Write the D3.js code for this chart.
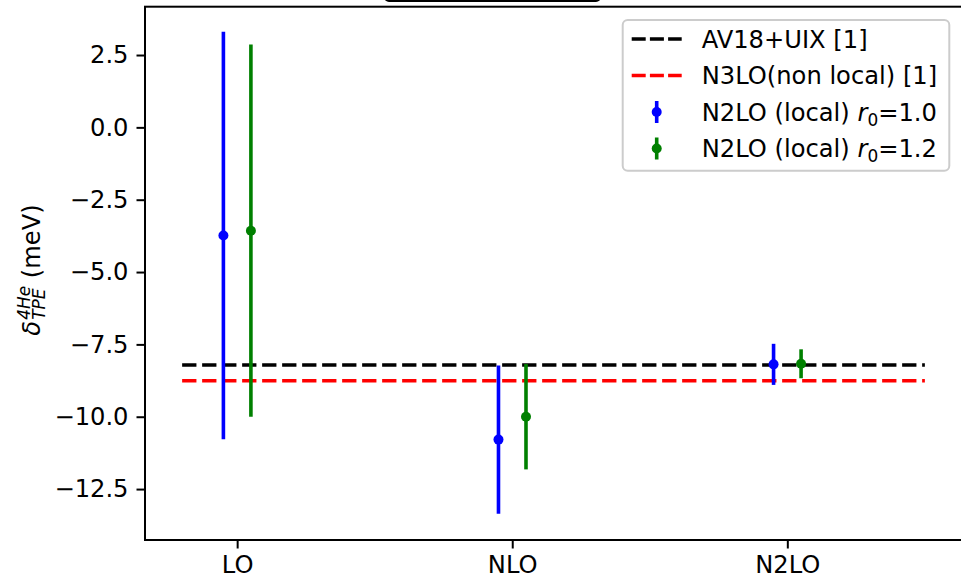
<!DOCTYPE html>
<html>
<head>
<meta charset="utf-8">
<script src="https://cdn.jsdelivr.net/npm/d3@7"></script>
<style>
  html, body { margin: 0; padding: 0; background: #fff; }
  svg { display: block; font-family: "DejaVu Sans", sans-serif; }
</style>
</head>
<body>
<svg id="chart" width="961" height="585"></svg>
<script>
// ---- data ----
const categories = ["LO", "NLO", "N2LO"];
const r0_10_values = [-3.74, -10.79, -8.19];
const r0_10_errors = [7.04, 2.56, 0.71];
const r0_12_values = [-3.57, -10.0, -8.17];
const r0_12_errors = [6.43, 1.82, 0.50];
const refNames = ["AV18+UIX [1]", "N3LO(non local) [1]"];
const refValues = [-8.21, -8.755];
const refColors = ["#000000", "#ff0000"];
const seriesLabels = ["1.0", "1.2"];
const seriesColors = ["#0000ff", "#008000"];
const seriesOffsets = [-0.05, 0.05];
const yTicks = [2.5, 0.0, -2.5, -5.0, -7.5, -10.0, -12.5];
const refSpan = [-0.2, 2.5];

// ---- layout ----
const svg = d3.select("#chart");
const mLeft = 145, mRight = 962, mTop = 6.7, mBottom = 540;
const FS = 24.2;

const x = d3.scaleLinear().domain([-0.335, 2.635]).range([mLeft, mRight]);
const y = d3.scaleLinear().domain([-14.26, 4.17]).range([mBottom, mTop]);

// title box remnant at very top
svg.append("rect").attr("x", 385).attr("y", -30).attr("width", 215).attr("height", 31)
  .attr("rx", 4).attr("fill", "none").attr("stroke", "#000").attr("stroke-width", 2);

// reference dashed lines
refValues.forEach((v, i) => {
  svg.append("line")
    .attr("x1", x(refSpan[0])).attr("x2", x(refSpan[1]))
    .attr("y1", y(v)).attr("y2", y(v))
    .attr("stroke", refColors[i]).attr("stroke-width", 3.6)
    .attr("stroke-dasharray", "14.3,5.7");
});

// error bars
const series = [
  { vals: r0_10_values, errs: r0_10_errors },
  { vals: r0_12_values, errs: r0_12_errors }
];
series.forEach((s, si) => {
  const g = svg.append("g");
  categories.forEach((c, i) => {
    const cx = x(i + seriesOffsets[si]);
    g.append("line").attr("x1", cx).attr("x2", cx)
      .attr("y1", y(s.vals[i] + s.errs[i])).attr("y2", y(s.vals[i] - s.errs[i]))
      .attr("stroke", seriesColors[si]).attr("stroke-width", 3.6);
    g.append("circle").attr("cx", cx).attr("cy", y(s.vals[i])).attr("r", 5)
      .attr("fill", seriesColors[si]);
  });
});

// axes
const yAxis = d3.axisLeft(y).tickValues(yTicks).tickFormat(d3.format(".1f"))
  .tickSize(8.5).tickPadding(8);
const gy = svg.append("g").attr("transform", `translate(${mLeft},0)`).call(yAxis);
const xAxis = d3.axisBottom(x).tickValues([0, 1, 2]).tickFormat(i => categories[i])
  .tickSize(8.5).tickPadding(7);
const gx = svg.append("g").attr("transform", `translate(0,${mBottom})`).call(xAxis);
[gx, gy].forEach(g => {
  g.select(".domain").remove();
  g.selectAll(".tick line").attr("stroke", "#000").attr("stroke-width", 2);
  g.selectAll(".tick text").attr("fill", "#000").style("font-size", FS + "px")
    .style("font-family", "DejaVu Sans");
});

// spines
svg.append("rect").attr("x", mLeft).attr("y", mTop).attr("width", mRight - mLeft).attr("height", mBottom - mTop)
  .attr("fill", "none").attr("stroke", "#000").attr("stroke-width", 2);

// y label (rotated math text)
const yl = svg.append("g");
let cur = 0;
function addPiece(txt, size, italic, dy) {
  return yl.append("text").attr("x", cur).attr("y", dy).text(txt)
    .style("font-size", size + "px").style("font-style", italic ? "italic" : "normal")
    .attr("fill", "#000");
}
const d1 = addPiece("δ", FS, true, 0);
cur += d1.node().getComputedTextLength() + 1;
const sup = addPiece("4He", FS * 0.7, true, -10);
const sub = addPiece("TPE", FS * 0.7, true, 5);
cur += Math.max(sup.node().getComputedTextLength(), sub.node().getComputedTextLength());
const rest = yl.append("text").attr("x", cur).attr("y", 0).text("\u00a0(meV)")
  .style("font-size", FS + "px").attr("fill", "#000");
cur += rest.node().getComputedTextLength();
yl.attr("transform", `translate(40,270) rotate(-90) translate(${-cur / 2},0)`);

// legend
const lg = svg.append("g");
lg.append("rect").attr("x", 622.7).attr("y", 20).attr("width", 326.6).attr("height", 150.7)
  .attr("rx", 5).attr("fill", "#fff").attr("fill-opacity", 0.8)
  .attr("stroke", "#cccccc").attr("stroke-width", 2);
const rowY = [39, 75.5, 112, 148.5];
const hx0 = 631.7, hx1 = 681.7, tx = 701.7;
refNames.forEach((n, i) => {
  lg.append("line").attr("x1", hx0).attr("x2", hx1).attr("y1", rowY[i]).attr("y2", rowY[i])
    .attr("stroke", refColors[i]).attr("stroke-width", 3.6).attr("stroke-dasharray", "14,4.2");
  lg.append("text").attr("x", tx).attr("y", rowY[i]).attr("dy", "0.36em").text(n)
    .style("font-size", FS + "px").attr("fill", "#000");
});
seriesLabels.forEach((lab, si) => {
  const ry = rowY[2 + si];
  const hc = (hx0 + hx1) / 2;
  lg.append("line").attr("x1", hc).attr("x2", hc).attr("y1", ry - 11).attr("y2", ry + 11)
    .attr("stroke", seriesColors[si]).attr("stroke-width", 3.6);
  lg.append("circle").attr("cx", hc).attr("cy", ry).attr("r", 5).attr("fill", seriesColors[si]);
  const t = lg.append("text").attr("x", tx).attr("y", ry).attr("dy", "0.36em")
    .style("font-size", FS + "px").attr("fill", "#000");
  t.append("tspan").text("N2LO (local) ");
  t.append("tspan").text("r").style("font-style", "italic");
  t.append("tspan").text("0").style("font-size", (FS * 0.7) + "px").attr("dy", 5);
  t.append("tspan").text("=" + lab).attr("dy", -5);
});
</script>
</body>
</html>
